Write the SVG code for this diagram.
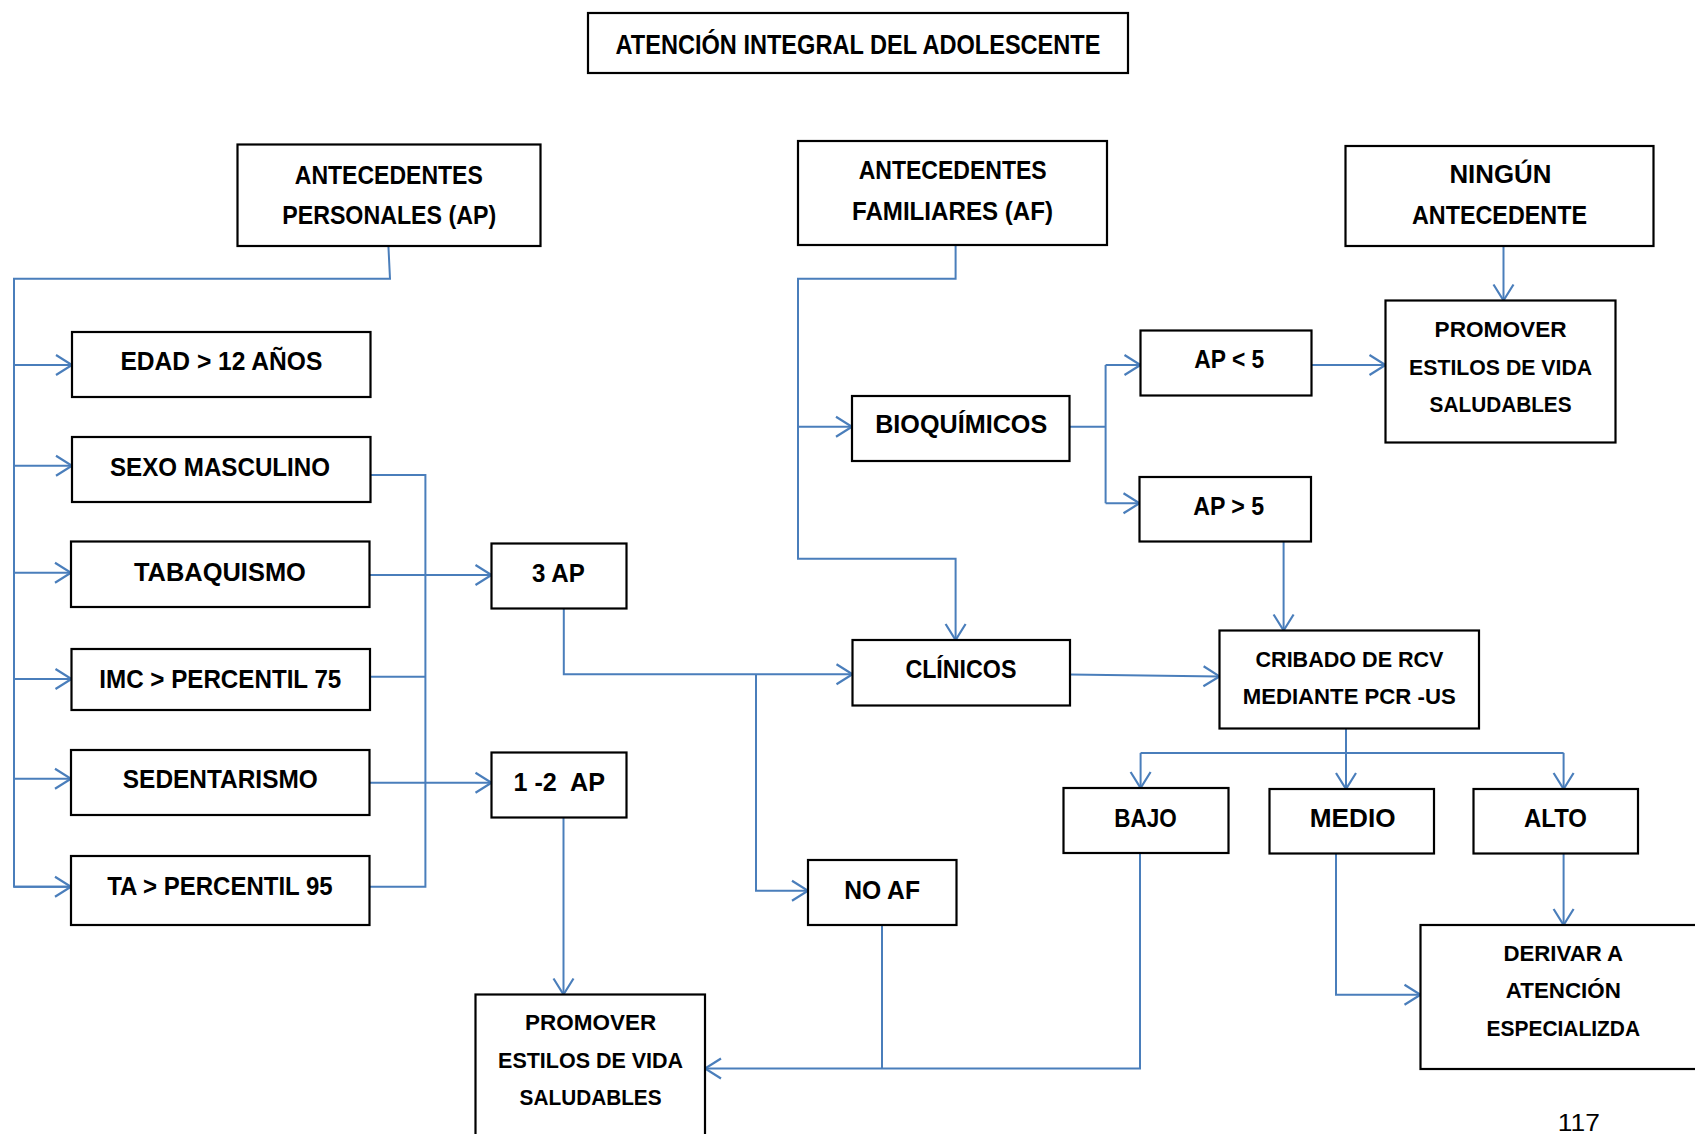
<svg xmlns="http://www.w3.org/2000/svg" width="1695" height="1134" viewBox="0 0 1695 1134">
<style>
.b{fill:#fff;stroke:#000;stroke-width:2.2}
.t{font-family:'Liberation Sans',Arial,sans-serif;font-weight:bold;font-size:26px;text-anchor:middle;fill:#000;white-space:pre}
.s{font-size:22.5px}
.c{fill:none;stroke:#4A7EBB;stroke-width:2}
.a{marker-end:url(#arr)}
</style>
<defs>
<marker id="arr" markerUnits="userSpaceOnUse" viewBox="-18 -12 20 24" refX="0" refY="0" markerWidth="20" markerHeight="24" orient="auto">
<path d="M-16,-10 L0,0 L-16,10" fill="none" stroke="#4A7EBB" stroke-width="2.2"/>
</marker>
</defs>
<rect width="1695" height="1134" fill="#fff"/>
<g id="connectors">
<path class="c" d="M388.4,246 L390,278.7 H14 V886.7 H71"/>
<path class="c a" d="M14,886.7 H71"/>
<path class="c a" d="M14,365 H72"/>
<path class="c a" d="M14,465.7 H72"/>
<path class="c a" d="M14,572.7 H71"/>
<path class="c a" d="M14,679 H71.5"/>
<path class="c a" d="M14,778.7 H71"/>
<path class="c" d="M370.4,475 H425.4 V886.7 H369.5"/>
<path class="c" d="M370,676.7 H425.4"/>
<path class="c a" d="M369.5,575 H491.5"/>
<path class="c a" d="M369.5,782.7 H491.5"/>
<path class="c a" d="M563.8,608.7 V674.3 H852.5"/>
<path class="c a" d="M756,674.3 V890.7 H808"/>
<path class="c a" d="M563.5,817.3 V994.5"/>
<path class="c a" d="M955.6,245 V278.7 H798 V558.7 H955.6 V640"/>
<path class="c a" d="M798,426.7 H852"/>
<path class="c" d="M1069.5,426.7 H1105.6 M1105.6,365 V503.3"/>
<path class="c a" d="M1105.6,365 H1140.5"/>
<path class="c a" d="M1105.6,503.3 H1139.5"/>
<path class="c a" d="M1311.5,365 H1385.5"/>
<path class="c a" d="M1503.5,246 V300.5"/>
<path class="c a" d="M1283.6,541.5 V630.5"/>
<path class="c a" d="M1070,674.6 L1219.5,676.4"/>
<path class="c a" d="M1346,728.5 V789"/>
<path class="c" d="M1140.6,752.9 H1563.6"/>
<path class="c a" d="M1140.6,752.9 V788"/>
<path class="c a" d="M1563.6,752.9 V789"/>
<path class="c a" d="M1563.6,853.5 V925"/>
<path class="c a" d="M1336,853.5 V994.8 H1420.5"/>
<path class="c a" d="M1140,853 V1068.5 H705"/>
<path class="c" d="M882,925.3 V1068.5"/>
</g>
<g id="title"><rect class="b" x="588" y="13" width="540" height="60"/><text class="t" x="858" y="53.5" textLength="485" lengthAdjust="spacingAndGlyphs" style="font-size:28.5px">ATENCIÓN INTEGRAL DEL ADOLESCENTE</text></g>
<g id="ap"><rect class="b" x="237.5" y="144.5" width="303" height="101.5"/><text class="t" x="388.8" y="183.5" textLength="188" lengthAdjust="spacingAndGlyphs">ANTECEDENTES</text><text class="t" x="389.2" y="223.5" textLength="214" lengthAdjust="spacingAndGlyphs">PERSONALES (AP)</text></g>
<g id="edad"><rect class="b" x="72" y="332" width="298.5" height="65"/><text class="t" x="221.4" y="369.5" textLength="202" lengthAdjust="spacingAndGlyphs">EDAD &gt; 12 AÑOS</text></g>
<g id="sexo"><rect class="b" x="72" y="437" width="298.5" height="65"/><text class="t" x="220" y="476" textLength="220" lengthAdjust="spacingAndGlyphs">SEXO MASCULINO</text></g>
<g id="tabaquismo"><rect class="b" x="71" y="541.5" width="298.5" height="65.5"/><text class="t" x="219.9" y="580.7" textLength="172" lengthAdjust="spacingAndGlyphs">TABAQUISMO</text></g>
<g id="imc"><rect class="b" x="71.5" y="649" width="298.5" height="61"/><text class="t" x="220.3" y="687.7" textLength="242" lengthAdjust="spacingAndGlyphs">IMC &gt; PERCENTIL 75</text></g>
<g id="sedentarismo"><rect class="b" x="71" y="750" width="298.5" height="65"/><text class="t" x="220.3" y="788.3" textLength="195" lengthAdjust="spacingAndGlyphs">SEDENTARISMO</text></g>
<g id="ta"><rect class="b" x="71" y="856" width="298.5" height="69"/><text class="t" x="219.9" y="895" textLength="225.5" lengthAdjust="spacingAndGlyphs">TA &gt; PERCENTIL 95</text></g>
<g id="ap3"><rect class="b" x="491.5" y="543.5" width="135" height="65"/><text class="t" x="558.4" y="582" textLength="52.7" lengthAdjust="spacingAndGlyphs">3 AP</text></g>
<g id="ap12"><rect class="b" x="491.5" y="752.5" width="135" height="65"/><text class="t" x="559.2" y="790.7" textLength="91.5" lengthAdjust="spacingAndGlyphs">1 -2  AP</text></g>
<g id="af"><rect class="b" x="798" y="141" width="309" height="104"/><text class="t" x="952.7" y="179" textLength="188" lengthAdjust="spacingAndGlyphs">ANTECEDENTES</text><text class="t" x="952.5" y="220" textLength="201" lengthAdjust="spacingAndGlyphs">FAMILIARES (AF)</text></g>
<g id="ninguno"><rect class="b" x="1345.5" y="146" width="308" height="100"/><text class="t" x="1500.4" y="183.3" textLength="102" lengthAdjust="spacingAndGlyphs">NINGÚN</text><text class="t" x="1499.5" y="224.3" textLength="175" lengthAdjust="spacingAndGlyphs">ANTECEDENTE</text></g>
<g id="promover1"><rect class="b" x="1385.5" y="300.5" width="230" height="142"/><text class="t s" x="1500.6" y="336.7" textLength="132" lengthAdjust="spacingAndGlyphs">PROMOVER</text><text class="t s" x="1500.6" y="375" textLength="183" lengthAdjust="spacingAndGlyphs">ESTILOS DE VIDA</text><text class="t s" x="1500.6" y="411.7" textLength="142" lengthAdjust="spacingAndGlyphs">SALUDABLES</text></g>
<g id="apmenor5"><rect class="b" x="1140.5" y="330.5" width="171" height="65"/><text class="t" x="1229.3" y="368.3" textLength="70" lengthAdjust="spacingAndGlyphs">AP &lt; 5</text></g>
<g id="bioquimicos"><rect class="b" x="852" y="396" width="217.5" height="65"/><text class="t" x="961.2" y="433.3" textLength="172" lengthAdjust="spacingAndGlyphs">BIOQUÍMICOS</text></g>
<g id="apmayor5"><rect class="b" x="1139.5" y="477" width="171.5" height="64.5"/><text class="t" x="1228.7" y="515" textLength="71" lengthAdjust="spacingAndGlyphs">AP &gt; 5</text></g>
<g id="clinicos"><rect class="b" x="852.5" y="640" width="217.5" height="65.5"/><text class="t" x="960.9" y="678.2" textLength="111" lengthAdjust="spacingAndGlyphs">CLÍNICOS</text></g>
<g id="cribado"><rect class="b" x="1219.5" y="630.5" width="259.5" height="98"/><text class="t s" x="1349.5" y="667.2" textLength="188" lengthAdjust="spacingAndGlyphs">CRIBADO DE RCV</text><text class="t s" x="1349.2" y="703.9" textLength="213" lengthAdjust="spacingAndGlyphs">MEDIANTE PCR -US</text></g>
<g id="bajo"><rect class="b" x="1063.5" y="788" width="165" height="65"/><text class="t" x="1145.5" y="826.5" textLength="62.5" lengthAdjust="spacingAndGlyphs">BAJO</text></g>
<g id="medio"><rect class="b" x="1269.5" y="789" width="164.5" height="64.5"/><text class="t" x="1352.7" y="826.5" textLength="85.8" lengthAdjust="spacingAndGlyphs">MEDIO</text></g>
<g id="alto"><rect class="b" x="1473.5" y="789" width="164.5" height="64.5"/><text class="t" x="1555.5" y="826.5" textLength="63" lengthAdjust="spacingAndGlyphs">ALTO</text></g>
<g id="derivar"><rect class="b" x="1420.5" y="925" width="300" height="144"/><text class="t s" x="1563.3" y="960.8" textLength="119.7" lengthAdjust="spacingAndGlyphs">DERIVAR A</text><text class="t s" x="1563.3" y="998.1" textLength="115" lengthAdjust="spacingAndGlyphs">ATENCIÓN</text><text class="t s" x="1563.3" y="1035.8" textLength="153.5" lengthAdjust="spacingAndGlyphs">ESPECIALIZDA</text></g>
<g id="noaf"><rect class="b" x="808" y="860" width="148.5" height="65"/><text class="t" x="882.1" y="898.6" textLength="75.8" lengthAdjust="spacingAndGlyphs">NO AF</text></g>
<g id="promover2"><rect class="b" x="475.5" y="994.5" width="229.5" height="160"/><text class="t s" x="590.6" y="1030" textLength="131" lengthAdjust="spacingAndGlyphs">PROMOVER</text><text class="t s" x="590.6" y="1068.3" textLength="185" lengthAdjust="spacingAndGlyphs">ESTILOS DE VIDA</text><text class="t s" x="590.6" y="1105" textLength="142" lengthAdjust="spacingAndGlyphs">SALUDABLES</text></g>
<text x="1578.8" y="1131" font-family="'Liberation Sans',Arial,sans-serif" font-size="24" text-anchor="middle" textLength="42" lengthAdjust="spacingAndGlyphs">117</text>
</svg>
